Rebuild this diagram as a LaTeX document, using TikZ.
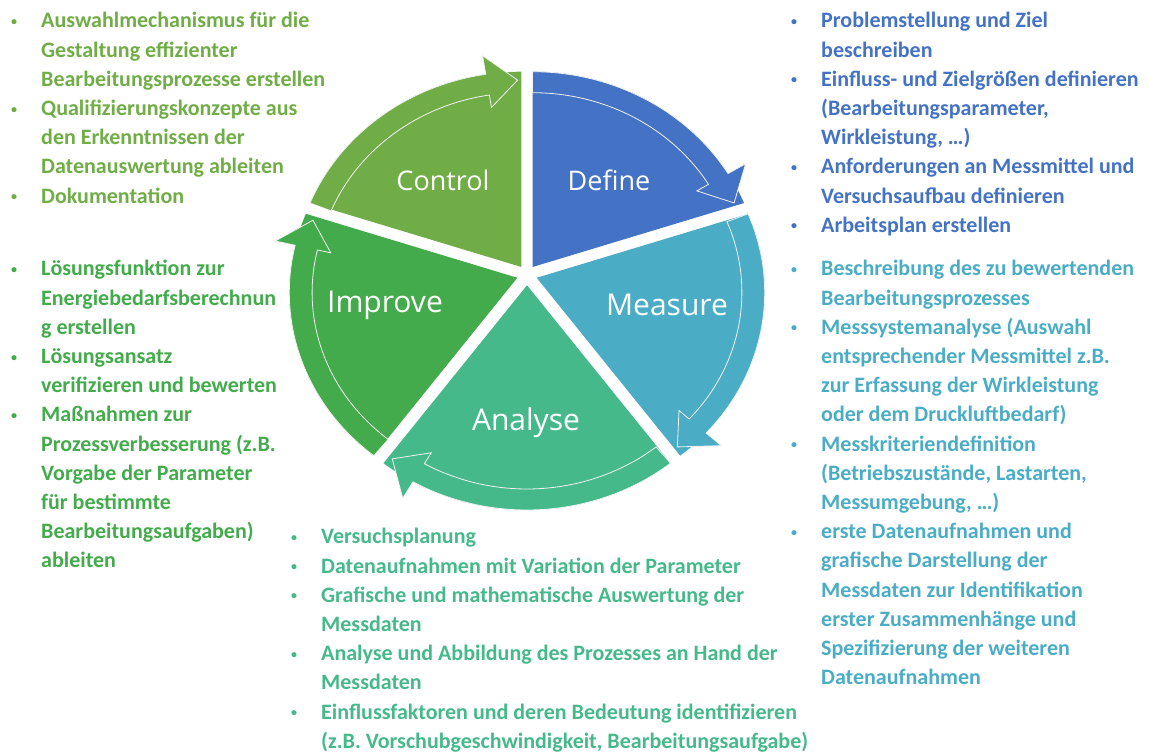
\documentclass[tikz,border=0pt]{standalone}
\usepackage{fontspec}
\setmainfont{Carlito}
\newfontfamily\phasefont{Open Sans}
\usepackage{array}
\definecolor{defineblue}{HTML}{4472C4}
\definecolor{measureteal}{HTML}{4BACC6}
\definecolor{analysegreen}{HTML}{46B98B}
\definecolor{improvegreen}{HTML}{43AB4B}
\definecolor{controlgreen}{HTML}{70AD47}
\newcommand{\smallbullet}{\raisebox{2.5pt}{\fontsize{12}{12}\selectfont\textbullet}}
\tikzstyle{band}=[draw=white!90!gray, line width=0.8pt]
\tikzstyle{phase}=[text=white, font={\phasefont\fontsize{27}{30}\selectfont}]
\tikzstyle{bigphase}=[text=white, font={\phasefont\fontsize{30}{33}\selectfont}]
\tikzstyle{itemlist}=[anchor=base west, inner sep=0pt, font={\bfseries\fontsize{22}{29.2}\selectfont}]

\begin{document}
\begin{tikzpicture}[x=1pt,y=1pt]
				\useasboundingbox (0,0) rectangle (1149,752);
				
				\begin{scope}[shift={(527,462)}]
				\begin{scope}[shift={(56:10)}, xscale=228, yscale=210]
				\fill[defineblue] (0,0.07) -- (90:1) arc[start angle=90, end angle=22, radius=1] -- cycle;
				\filldraw[band, fill=defineblue] (90:1) arc[start angle=90, end angle=31, radius=1] -- (31:1.09) -- (23:0.96) -- (31:0.84) -- (31:0.9) arc[start angle=31, end angle=90, radius=0.9] -- cycle;
				\end{scope}
				\begin{scope}[shift={(-14.5:10)}, xscale=228, yscale=210]
				\fill[measureteal] (0,0.07) -- (22:1) arc[start angle=22, end angle=-51, radius=1] -- cycle;
				\filldraw[band, fill=measureteal] (22:1) arc[start angle=22, end angle=-42, radius=1] -- (-42:1.09) -- (-50:0.96) -- (-42:0.84) -- (-42:0.9) arc[start angle=-42, end angle=22, radius=0.9] -- cycle;
				\end{scope}
				\begin{scope}[shift={(-90:10)}, xscale=228, yscale=210]
				\fill[analysegreen] (0,0.07) -- (-51:1) arc[start angle=-51, end angle=-129, radius=1] -- cycle;
				\filldraw[band, fill=analysegreen] (-51:1) arc[start angle=-51, end angle=-120, radius=1] -- (-120:1.09) -- (-128:0.96) -- (-120:0.84) -- (-120:0.9) arc[start angle=-120, end angle=-51, radius=0.9] -- cycle;
				\end{scope}
				\begin{scope}[shift={(194.5:10)}, xscale=228, yscale=210]
				\fill[improvegreen] (0,0.07) -- (231:1) arc[start angle=231, end angle=158, radius=1] -- cycle;
				\filldraw[band, fill=improvegreen] (231:1) arc[start angle=231, end angle=167, radius=1] -- (167:1.09) -- (159:0.96) -- (167:0.84) -- (167:0.9) arc[start angle=167, end angle=231, radius=0.9] -- cycle;
				\end{scope}
				\begin{scope}[shift={(124:10)}, xscale=228, yscale=210]
				\fill[controlgreen] (0,0.07) -- (158:1) arc[start angle=158, end angle=90, radius=1] -- cycle;
				\filldraw[band, fill=controlgreen] (158:1) arc[start angle=158, end angle=99, radius=1] -- (99:1.09) -- (91:0.96) -- (99:0.84) -- (99:0.9) arc[start angle=99, end angle=158, radius=0.9] -- cycle;
				\end{scope}
				\end{scope}
				
				\node[phase] (control) at (443,572) {Control};
				\node[phase] (define) at (609,572) {Define};
				\node[bigphase] (measure) at (667,447) {Measure};
				\node[bigphase] (improve) at (385,447) {Improve};
				\node[bigphase] (analyse) at (526,329) {Analyse};
				
				\node[itemlist, text=controlgreen] (controllist) at (11,724) {\begin{tabular}[t]{@{}p{30pt}@{}l@{}}
					\smallbullet & Auswahlmechanismus für die\\
					& Gestaltung effizienter\\
					& Bearbeitungsprozesse erstellen\\
					\smallbullet & Qualifizierungskonzepte aus\\
					& den Erkenntnissen der\\
					& Datenauswertung ableiten\\
					\smallbullet & Dokumentation
				\end{tabular}};
				\node[itemlist, text=defineblue] (definelist) at (791,724) {\begin{tabular}[t]{@{}p{30pt}@{}l@{}}
					\smallbullet & Problemstellung und Ziel\\
					& beschreiben\\
					\smallbullet & Einfluss- und Zielgrößen definieren\\
					& (Bearbeitungsparameter,\\
					& Wirkleistung, …)\\
					\smallbullet & Anforderungen an Messmittel und\\
					& Versuchsaufbau definieren\\
					\smallbullet & Arbeitsplan erstellen
				\end{tabular}};
				\node[itemlist, text=measureteal] (measurelist) at (791,476) {\begin{tabular}[t]{@{}p{30pt}@{}l@{}}
					\smallbullet & Beschreibung des zu bewertenden\\
					& Bearbeitungsprozesses\\
					\smallbullet & Messsystemanalyse (Auswahl\\
					& entsprechender Messmittel z.B.\\
					& zur Erfassung der Wirkleistung\\
					& oder dem Druckluftbedarf)\\
					\smallbullet & Messkriteriendefinition\\
					& (Betriebszustände, Lastarten,\\
					& Messumgebung, …)\\
					\smallbullet & erste Datenaufnahmen und\\
					& grafische Darstellung der\\
					& Messdaten zur Identifikation\\
					& erster Zusammenhänge und\\
					& Spezifizierung der weiteren\\
					& Datenaufnahmen
				\end{tabular}};
				\node[itemlist, text=improvegreen] (improvelist) at (11,476) {\begin{tabular}[t]{@{}p{30pt}@{}l@{}}
					\smallbullet & Lösungsfunktion zur\\
					& Energiebedarfsberechnun\\
					& g erstellen\\
					\smallbullet & Lösungsansatz\\
					& verifizieren und bewerten\\
					\smallbullet & Maßnahmen zur\\
					& Prozessverbesserung (z.B.\\
					& Vorgabe der Parameter\\
					& für bestimmte\\
					& Bearbeitungsaufgaben)\\
					& ableiten
				\end{tabular}};
				\node[itemlist, text=analysegreen] (analyselist) at (291,208) {\begin{tabular}[t]{@{}p{30pt}@{}l@{}}
					\smallbullet & Versuchsplanung\\
					\smallbullet & Datenaufnahmen mit Variation der Parameter\\
					\smallbullet & Grafische und mathematische Auswertung der\\
					& Messdaten\\
					\smallbullet & Analyse und Abbildung des Prozesses an Hand der\\
					& Messdaten\\
					\smallbullet & Einflussfaktoren und deren Bedeutung identifizieren\\
					& (z.B. Vorschubgeschwindigkeit, Bearbeitungsaufgabe)
				\end{tabular}};
			\end{tikzpicture}
\end{document}
